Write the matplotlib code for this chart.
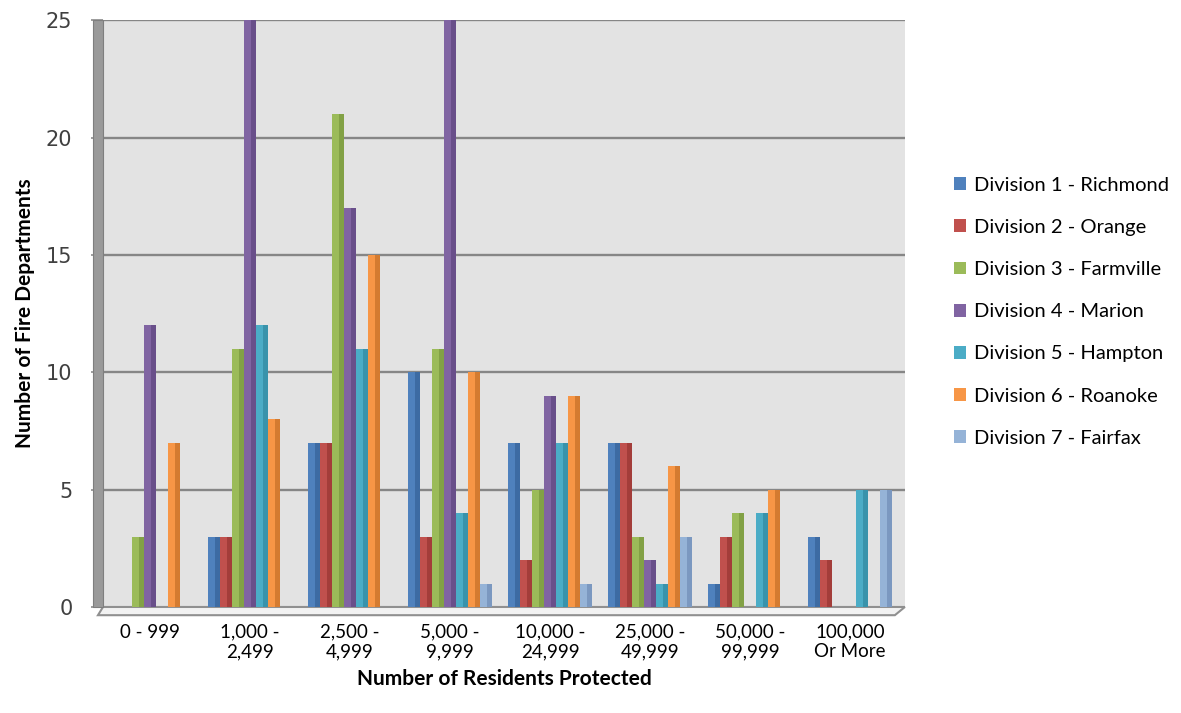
import numpy as np
import matplotlib.pyplot as plt
from matplotlib.patches import Rectangle, Polygon
from matplotlib import font_manager

categories = ["0 - 999", "1,000 -\n2,499", "2,500 -\n4,999", "5,000 -\n9,999",
              "10,000 -\n24,999", "25,000 -\n49,999", "50,000 -\n99,999", "100,000\nOr More"]
divisions = ["Division 1 - Richmond", "Division 2 - Orange", "Division 3 - Farmville",
             "Division 4 - Marion", "Division 5 - Hampton", "Division 6 - Roanoke",
             "Division 7 - Fairfax"]
div1 = [0, 3, 7, 10, 7, 7, 1, 3]
div2 = [0, 3, 7, 3, 2, 7, 3, 2]
div3 = [3, 11, 21, 11, 5, 3, 4, 0]
div4 = [12, 25, 17, 25, 9, 2, 0, 0]
div5 = [0, 12, 11, 4, 7, 1, 4, 5]
div6 = [7, 8, 15, 10, 9, 6, 5, 0]
div7 = [0, 0, 0, 1, 1, 3, 0, 5]
series = [div1, div2, div3, div4, div5, div6, div7]
colors = ["#4F81BD", "#C0504D", "#9BBB59", "#8064A2", "#4BACC6", "#F79646", "#95B3D7"]
dark = ["#2F5A8E", "#8C2F2C", "#6F8C35", "#573F78", "#2B7F96", "#B8651F", "#6683AE"]

installed = {f.name for f in font_manager.fontManager.ttflist}
narrow = "Liberation Sans Narrow" if "Liberation Sans Narrow" in installed else "Lato"
plt.rcParams['font.family'] = [narrow, 'DejaVu Sans']

fig = plt.figure(figsize=(11.81, 7.13), dpi=100)
ax = fig.add_axes([0.0872, 0.1487, 0.679, 0.823])

w = 0.12
x = np.arange(len(categories))
ax.set_xlim(-0.47, 7.55)
ax.set_ylim(0, 25)
ax.set_facecolor("#E3E3E3")

for v in [5, 10, 15, 20, 25]:
    ax.axhline(v, color="#868686", lw=1.7, zorder=1)

for i, vals in enumerate(series):
    xs = x - 0.42 + i * w + w / 2
    ax.bar(xs, vals, width=w, color=colors[i], zorder=3, label=divisions[i])
    # darker side face for a bit of depth
    ax.bar(xs + w * 0.3, vals, width=w * 0.4, color=dark[i], alpha=0.55, zorder=4)

# floor and left wall
ax.add_patch(Polygon([[-0.47, 0], [7.55, 0], [7.45, -0.35], [-0.52, -0.35]],
                     closed=True, facecolor="#F2F2F2", edgecolor="#909090",
                     lw=1.5, clip_on=False, zorder=2))
wall = Rectangle((0.0787, 0.1487), 0.0085, 0.823, transform=fig.transFigure,
                 facecolor="#9A9A9A", edgecolor="#7F7F7F", lw=0.8)
fig.patches.append(wall)

for s in ax.spines.values():
    s.set_visible(False)

ax.set_yticks([0, 5, 10, 15, 20, 25])
ax.tick_params(axis="y", length=9, width=1.2, color="#8C8C8C", pad=13, labelsize=15)
for t in ax.get_yticklabels():
    t.set_family(["DejaVu Sans"])
    t.set_color("#404040")
ax.set_xticks(x)
ax.set_xticklabels(categories, fontsize=13.5)
ax.tick_params(axis="x", length=0, pad=12)

ax.set_ylabel("Number of Fire Departments", fontsize=15, fontweight="bold", labelpad=8)
ax.set_xlabel("Number of Residents Protected", fontsize=15, fontweight="bold", labelpad=6)

handles, labels = ax.get_legend_handles_labels()
ax.legend(handles, labels, loc="center left", bbox_to_anchor=(1.039, 0.503),
          frameon=False, fontsize=14.5, handlelength=0.6, handleheight=0.6,
          handletextpad=0.4, labelspacing=1.25)

fig.savefig("out.png", dpi=100, facecolor="white")
